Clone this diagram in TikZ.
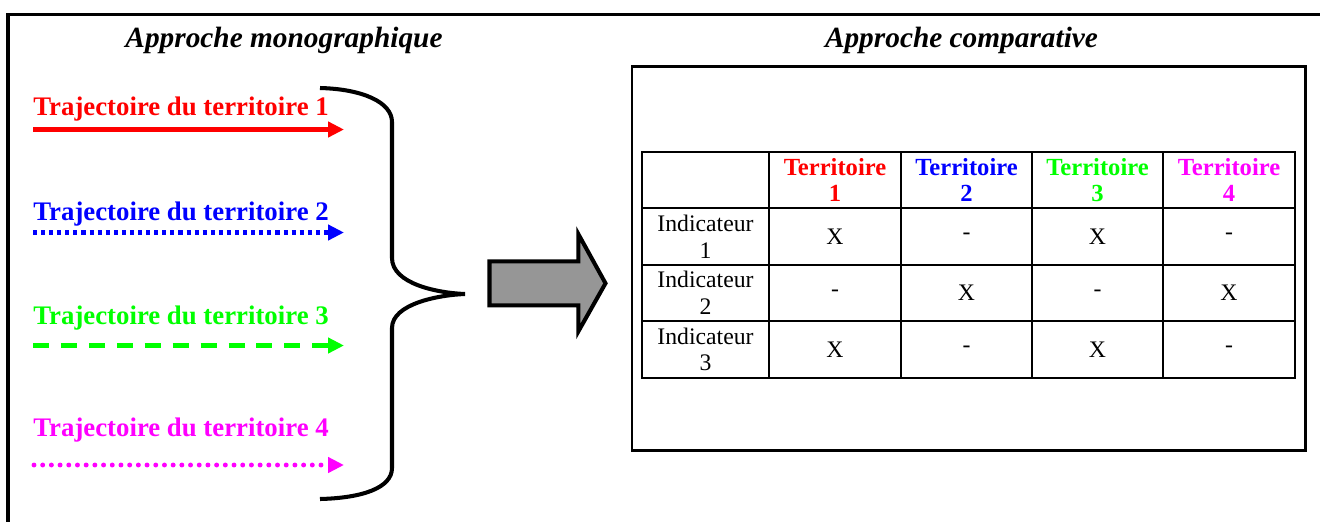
\documentclass[tikz,border=0pt]{standalone}
\usepackage{fontspec}
\setmainfont{Liberation Serif}
\usetikzlibrary{arrows.meta, positioning}

\definecolor{rouge}{RGB}{255,0,0}
\definecolor{bleu}{RGB}{0,0,255}
\definecolor{vert}{RGB}{0,255,0}
\definecolor{rose}{RGB}{255,0,255}
\definecolor{gris}{RGB}{150,150,150}

\tikzset{
    titre/.style={font=\fontsize{16.7}{20}\selectfont\bfseries\itshape, anchor=base, inner sep=0pt},
    trajtext/.style={font=\fontsize{15.25}{18}\selectfont\bfseries, anchor=base west, inner sep=0pt},
    traj/.style={line width=2.3pt, -{Triangle[length=9pt, width=8.5pt]}},
    cellule/.style={draw, line width=1.1pt, inner sep=0pt, minimum width=74.8pt, minimum height=32.15pt,
        align=center, font=\fontsize{13.5}{15.2}\selectfont},
    entete/.style={cellule, font=\fontsize{14}{15.2}\selectfont\bfseries},
    premiere/.style={cellule, minimum width=72.3pt}
}

\begin{document}
\begin{tikzpicture}[x=0.02cm, y=-0.02cm]  % one unit = one pixel of the reference, y going down
    \useasboundingbox (0,0) rectangle (1320,522);

    % Frame
    \draw[line width=2.2pt] (1320,14.5) -- (8,14.5) -- (8,522);

    % Titles
    \node[titre] (mono) at (284,47) {Approche monographique};
    \node[titre] (comp) at (961.5,47) {Approche comparative};

    % Trajectories
    \node[trajtext, text=rouge] (t1) at (33,115) {Trajectoire du territoire 1};
    \node[trajtext, text=bleu] (t2) at (33,220) {Trajectoire du territoire 2};
    \node[trajtext, text=vert] (t3) at (33,324) {Trajectoire du territoire 3};
    \node[trajtext, text=rose] (t4) at (33,436) {Trajectoire du territoire 4};

    \coordinate (d1) at (33,129.5);  \coordinate (f1) at (344,129.5);
    \coordinate (d2) at (33,232.5);  \coordinate (f2) at (344,232.5);
    \coordinate (d3) at (33,345.5);  \coordinate (f3) at (344,345.5);
    \coordinate (d4) at (34,465);    \coordinate (f4) at (344,465);

    \draw[traj, rouge] (d1) -- (f1);
    \draw[traj, bleu, dash pattern=on 2.3pt off 2.3pt] (d2) -- (f2);
    \draw[traj, vert, dash pattern=on 9.1pt off 6.8pt] (d3) -- (f3);
    \draw[traj, rose, line width=2.8pt, line cap=round, dash pattern=on 0pt off 4.95pt] (d4) -- (f4);

    % Brace
    \draw[line width=2.3pt] (320,88) .. controls (362,89) and (392,102) .. (392,122)
        -- (392,258) .. controls (392,284) and (438,293) .. (465,294)
        .. controls (438,295) and (392,304) .. (392,328)
        -- (392,468) .. controls (392,488) and (362,498) .. (320,499);

    % Big arrow
    \draw[line width=2.3pt, fill=gris] (489.5,261.3) -- (578.3,261.3) -- (578.3,234) -- (605.5,283.3)
        -- (578.3,331.5) -- (578.3,305.3) -- (489.5,305.3) -- cycle;

    % Comparative box
    \draw[line width=1.7pt] (632,66.5) rectangle (1305,450);

    % Table header
    \node[premiere] (vide) at (705.5,180) {};
    \node[entete, text=rouge] (ter1) at (835,180) {Territoire\\1};
    \node[entete, text=bleu] (ter2) at (966.5,180) {Territoire\\2};
    \node[entete, text=vert] (ter3) at (1097.5,180) {Territoire\\3};
    \node[entete, text=rose] (ter4) at (1229,180) {Territoire\\4};

    % Table rows
    \node[premiere] (ind1) at (705.5,236.5) {Indicateur\\1};
    \node[cellule] (c11) at (835,236.5) {X};
    \node[cellule] (c12) at (966.5,236.5) {-};
    \node[cellule] (c13) at (1097.5,236.5) {X};
    \node[cellule] (c14) at (1229,236.5) {-};

    \node[premiere] (ind2) at (705.5,293) {Indicateur\\2};
    \node[cellule] (c21) at (835,293) {-};
    \node[cellule] (c22) at (966.5,293) {X};
    \node[cellule] (c23) at (1097.5,293) {-};
    \node[cellule] (c24) at (1229,293) {X};

    \node[premiere] (ind3) at (705.5,349.5) {Indicateur\\3};
    \node[cellule] (c31) at (835,349.5) {X};
    \node[cellule] (c32) at (966.5,349.5) {-};
    \node[cellule] (c33) at (1097.5,349.5) {X};
    \node[cellule] (c34) at (1229,349.5) {-};
\end{tikzpicture}
\end{document}
